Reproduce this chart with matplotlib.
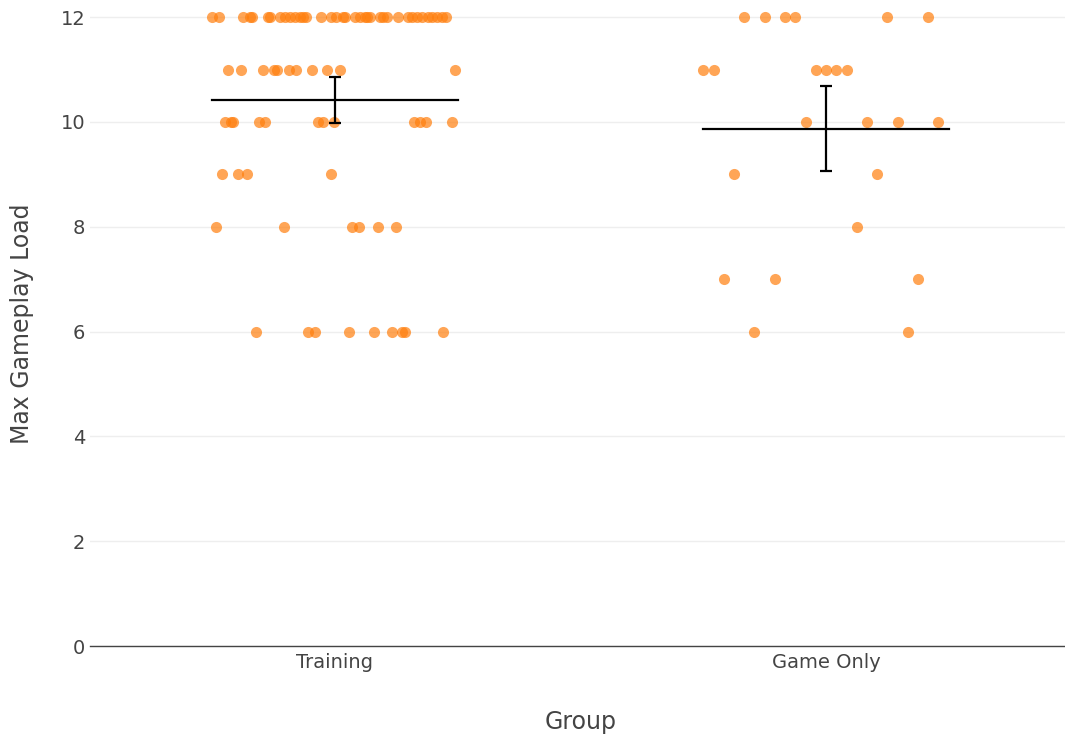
import matplotlib.pyplot as plt
import numpy as np

# groups on the x axis
groups = ["Training", "Game Only"]

# Training: load values and horizontal jitter (in category units)
train_load = [12] * 37 + [11] * 11 + [10] * 12 + [9] * 4 + [8] * 6 + [6] * 9
train_dx = [
    # 12
    -0.251, -0.236, -0.187, -0.173, -0.170, -0.136, -0.132, -0.112, -0.102,
    -0.092, -0.081, -0.071, -0.065, -0.059, -0.029, -0.008, 0.003, 0.017,
    0.021, 0.041, 0.051, 0.061, 0.065, 0.071, 0.092, 0.098, 0.105, 0.129,
    0.149, 0.156, 0.166, 0.177, 0.190, 0.197, 0.207, 0.217, 0.227,
    # 11
    -0.217, -0.192, -0.147, -0.124, -0.118, -0.093, -0.079, -0.046, -0.016,
    0.010, 0.244,
    # 10
    -0.224, -0.212, -0.207, -0.155, -0.143, -0.034, -0.024, -0.003, 0.161,
    0.173, 0.185, 0.239,
    # 9
    -0.230, -0.198, -0.180, -0.009,
    # 8
    -0.242, -0.103, 0.034, 0.049, 0.087, 0.124,
    # 6
    -0.160, -0.054, -0.041, 0.029, 0.079, 0.117, 0.137, 0.143, 0.219,
]

# Game Only
game_load = [12] * 6 + [11] * 6 + [10] * 4 + [9] * 2 + [8] * 1 + [7] * 3 + [6] * 2
game_dx = [
    -0.166, -0.124, -0.083, -0.063, 0.125, 0.208,
    -0.250, -0.229, -0.021, 0.000, 0.021, 0.042,
    -0.041, 0.084, 0.146, 0.229,
    -0.187, 0.104,
    0.063,
    -0.208, -0.104, 0.187,
    -0.146, 0.166,
]

# mean and error
means = [10.42, 9.875]
errs = [0.445, 0.81]

fig = plt.figure(figsize=(10.65, 7.38), dpi=100, facecolor="white")
ax = fig.add_axes([89.5 / 1065, 92 / 738, (1065 - 89.5) / 1065, 644 / 738])

for i, (load, dx) in enumerate([(train_load, train_dx), (game_load, game_dx)]):
    ax.scatter(
        i + np.array(dx), load, s=64, color="#ff7f0e", alpha=0.7,
        linewidths=0, zorder=3, clip_on=False,
    )

for i, (m, e) in enumerate(zip(means, errs)):
    ax.plot([i - 0.25, i + 0.25], [m, m], color="black", lw=1.6, zorder=4)
    ax.errorbar(
        i, m, yerr=e, color="black", elinewidth=1.6, capsize=4.5,
        capthick=1.6, zorder=4,
    )

ax.set_xlim(-0.5, 1.5 - 6.5 / 491)
ax.set_ylim(0, 12.29)
ax.set_xticks(range(len(groups)))
ax.set_xticklabels(groups)
ax.set_yticks(range(0, 13, 2))

for s in ["top", "right", "left"]:
    ax.spines[s].set_visible(False)
ax.spines["bottom"].set_color("#444444")
ax.spines["bottom"].set_linewidth(1.0)
ax.grid(axis="y", color="#eeeeee", lw=1.0)
ax.set_axisbelow(True)
ax.tick_params(axis="both", length=0, labelsize=14, colors="#444444")
ax.tick_params(axis="y", pad=3)
ax.tick_params(axis="x", pad=5)

ax.set_ylabel("Max Gameplay Load", fontsize=17, color="#444444")
ax.yaxis.set_label_coords(-(89.5 - 22) / 975.5, 0.5)
ax.yaxis.label.set_va("center")
ax.set_xlabel("Group", fontsize=17, color="#444444")
ax.xaxis.set_label_coords((581 - 89.5) / 975.5, -(722 - 646) / 644)
ax.xaxis.label.set_va("center")

fig.savefig("out.png", dpi=100, facecolor="white")
